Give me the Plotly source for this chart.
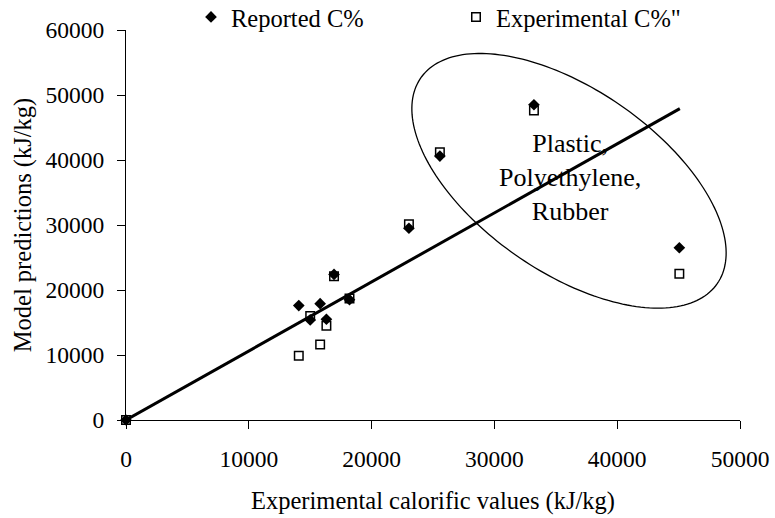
import numpy as np
import plotly.graph_objects as go

# Data
exp_values = [0, 14070, 15000, 15810, 16320, 16940, 18200, 23040, 25560, 33220, 45060]
reported_c = [0, 17600, 15400, 17900, 15500, 22400, 18500, 29500, 40600, 48500, 26500]
experimental_c = [0, 9900, 16000, 11600, 14500, 22100, 18700, 30100, 41200, 47600, 22500]
line_x = [0, 45100]
line_y = [0, 47900]

x_ticks = [0, 10000, 20000, 30000, 40000, 50000]
y_ticks = [0, 10000, 20000, 30000, 40000, 50000, 60000]

FONT = "Liberation Serif"
W, H = 775, 518
# plot area in page pixels (body margin removed via post_script)
PX0, PX1, PY0, PY1 = 126, 740, 30, 420.5
L, R = PX0, W - PX1
T, B = PY0, H - PY1
pw = PX1 - PX0
ph = PY1 - PY0
xr = [0, 50000]
yr = [0, 60000]
xpp = (xr[1] - xr[0]) / pw
ypp = (yr[1] - yr[0]) / ph

# Ellipse outline around the plastic group (pixel geometry -> data)
cx_px, cy_px = 569 - PX0, 181 - PY0
a_px, b_px, th = 180.5, 91.5, np.deg2rad(34.8)
t = np.linspace(0, 2 * np.pi, 200)
ex_px = cx_px + a_px * np.cos(t) * np.cos(th) - b_px * np.sin(t) * np.sin(th)
ey_px = cy_px + a_px * np.cos(t) * np.sin(th) + b_px * np.sin(t) * np.cos(th)
ex = xr[0] + ex_px * xpp
ey = yr[1] - ey_px * ypp
path = "M " + " L ".join(f"{a:.1f},{b:.1f}" for a, b in zip(ex, ey)) + " Z"

fig = go.Figure()
fig.add_trace(go.Scatter(
    x=line_x, y=line_y, mode="lines", line=dict(color="black", width=3),
    showlegend=False, hoverinfo="skip", cliponaxis=False))
fig.add_trace(go.Scatter(
    x=exp_values, y=experimental_c, mode="markers", name="Experimental C%\"",
    marker=dict(symbol="square-open", size=8.5, color="black", line=dict(width=1.5)),
    cliponaxis=False, legendrank=2))
fig.add_trace(go.Scatter(
    x=exp_values, y=reported_c, mode="markers", name="Reported C%",
    marker=dict(symbol="diamond", size=9, color="black"), cliponaxis=False,
    legendrank=1))

fig.add_shape(type="path", path=path, xref="x", yref="y",
              line=dict(color="black", width=1.3))

fig.add_annotation(x=xr[0] + (570 - PX0) * xpp, y=yr[1] - (178 - PY0) * ypp,
                   text="Plastic,<br>Polyethylene,<br>Rubber", showarrow=False,
                   font=dict(family=FONT, size=26, color="black"), align="center")

axis_common = dict(showline=True, linecolor="black", linewidth=1.3, ticks="outside",
                   ticklen=8, tickwidth=1.3, tickcolor="black", showgrid=False,
                   zeroline=False, ticklabeloverflow="allow",
                   tickfont=dict(family=FONT, size=23.5, color="black"))
fig.update_xaxes(range=xr, tickvals=x_ticks, ticktext=[str(v) for v in x_ticks],
                 ticklabelstandoff=10,
                 title=dict(text="Experimental calorific values (kJ/kg)",
                            font=dict(family=FONT, size=24.5, color="black"), standoff=20),
                 **axis_common)
fig.update_yaxes(range=yr, tickvals=y_ticks, ticktext=[str(v) for v in y_ticks],
                 ticklabelstandoff=8,
                 title=dict(text="Model predictions (kJ/kg)",
                            font=dict(family=FONT, size=24.5, color="black"), standoff=6),
                 **axis_common)

legend_left_page = 191
fig.update_layout(
    width=W, height=H, margin=dict(l=L, r=R, t=T, b=B, autoexpand=False),
    paper_bgcolor="white", plot_bgcolor="white",
    font=dict(family=FONT, color="black"),
    legend=dict(orientation="h", x=(legend_left_page - PX0) / pw, xanchor="left",
                y=1 + (PY0 - 17) / ph, yanchor="middle",
                font=dict(family=FONT, size=24.5, color="black"),
                entrywidth=220, entrywidthmode="pixels",
                bgcolor="rgba(0,0,0,0)", borderwidth=0),
)

fig.write_html("out.html", config={"displayModeBar": False},
               post_script="document.body.style.margin='0';document.body.style.overflow='hidden';")
